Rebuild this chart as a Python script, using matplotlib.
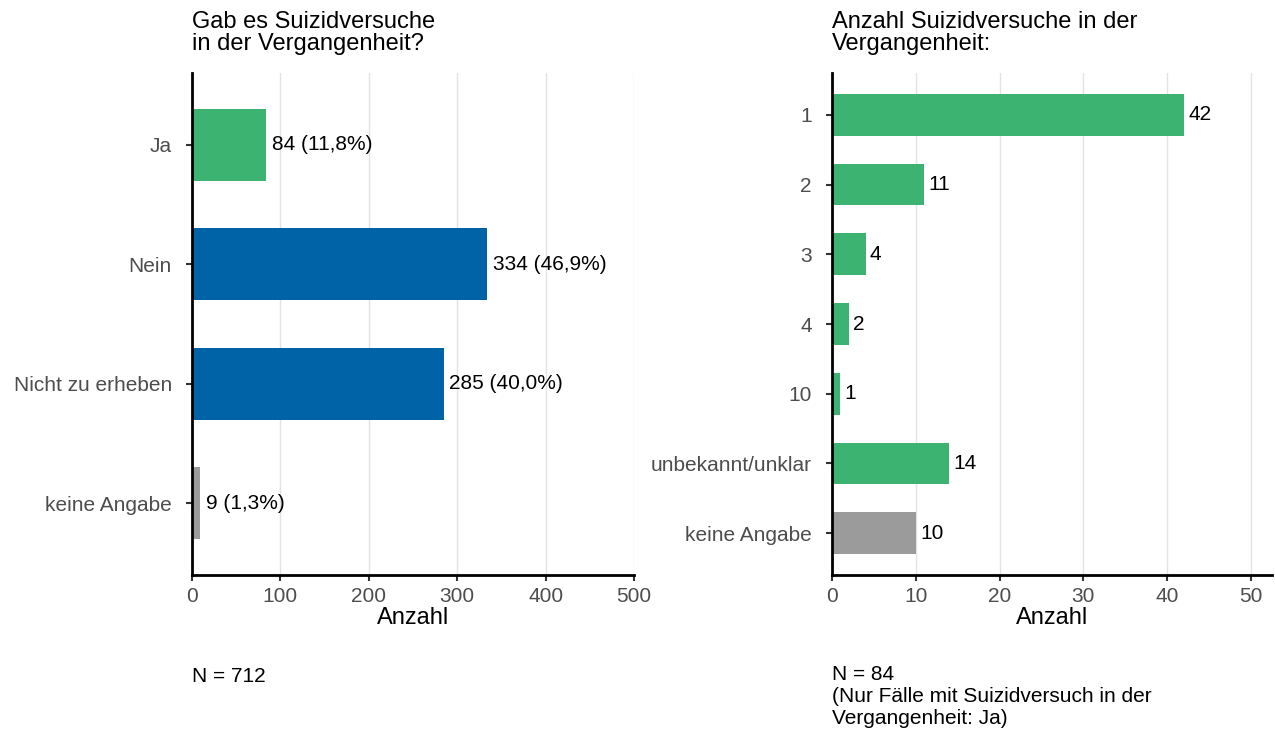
import matplotlib
matplotlib.use("Agg")
import matplotlib.pyplot as plt

plt.rcParams['font.family'] = ['Liberation Sans', 'DejaVu Sans']

# Left panel: suicide attempts in the past
left_cats = ["Ja", "Nein", "Nicht zu erheben", "keine Angabe"]
left_vals = [84, 334, 285, 9]
left_pcts = ["11,8%", "46,9%", "40,0%", "1,3%"]
left_colors = ["#3CB371", "#0063A7", "#0063A7", "#9B9B9B"]
left_n = 712

# Right panel: number of suicide attempts
right_cats = ["1", "2", "3", "4", "10", "unbekannt/unklar", "keine Angabe"]
right_vals = [42, 11, 4, 2, 1, 14, 10]
right_colors = ["#3CB371"] * 6 + ["#9B9B9B"]
right_n = 84

TICK_COL = "#4D4D4D"
GRID_COL = "#E3E3E3"
FS = 15

fig = plt.figure(figsize=(12.75, 7.29), dpi=100)
ax1 = fig.add_axes([192 / 1275, 154 / 729, 442 / 1275, 502 / 729])
ax2 = fig.add_axes([832 / 1275, 154 / 729, 440 / 1275, 502 / 729])


def style(ax, cats, xmax, xticks):
    n = len(cats)
    ax.set_ylim(n - 0.4, -0.6)
    ax.set_xlim(0, xmax)
    ax.set_yticks(range(n))
    ax.set_yticklabels(cats, fontsize=FS, color=TICK_COL)
    ax.set_xticks(xticks)
    ax.set_xticklabels([str(t) for t in xticks], fontsize=FS, color=TICK_COL)
    ax.tick_params(axis='both', length=4.5, width=1.5, color="#333333")
    ax.tick_params(axis='y', pad=10)
    ax.tick_params(axis='x', pad=4)
    ax.grid(axis='x', color=GRID_COL, linewidth=1)
    ax.set_axisbelow(True)
    for s in ["top", "right"]:
        ax.spines[s].set_visible(False)
    for s in ["left", "bottom"]:
        ax.spines[s].set_linewidth(2)
        ax.spines[s].set_color("black")
    ax.set_xlabel("Anzahl", fontsize=17, labelpad=1)


# Left chart
ax1.barh(range(len(left_cats)), left_vals, height=0.6, color=left_colors)
for i, (v, p) in enumerate(zip(left_vals, left_pcts)):
    ax1.annotate(f"{v} ({p})", (v, i), xytext=(4, 0), textcoords="offset points",
                 va="center", ha="left", fontsize=FS, color="black")
style(ax1, left_cats, 500, [0, 100, 200, 300, 400, 500])

# Right chart
ax2.barh(range(len(right_cats)), right_vals, height=0.6, color=right_colors)
for i, v in enumerate(right_vals):
    ax2.annotate(f"{v}", (v, i), xytext=(3, 0), textcoords="offset points",
                 va="center", ha="left", fontsize=FS, color="black")
style(ax2, right_cats, 52.5, [0, 10, 20, 30, 40, 50])

# Titles
TFS = 17
fig.text(192 / 1275, 1 - 11 / 729, "Gab es Suizidversuche\nin der Vergangenheit?",
         fontsize=TFS, va="top", ha="left", linespacing=1.02)
fig.text(832 / 1275, 1 - 11 / 729, "Anzahl Suizidversuche in der\nVergangenheit:",
         fontsize=TFS, va="top", ha="left", linespacing=1.02)

# Footnotes
fig.text(192 / 1275, 1 - 667 / 729, f"N = {left_n}", fontsize=FS, va="top", ha="left")
fig.text(832 / 1275, 1 - 665 / 729,
         f"N = {right_n}\n(Nur Fälle mit Suizidversuch in der\nVergangenheit: Ja)",
         fontsize=FS, va="top", ha="left", linespacing=1.2)

fig.savefig("out.png", dpi=100)
